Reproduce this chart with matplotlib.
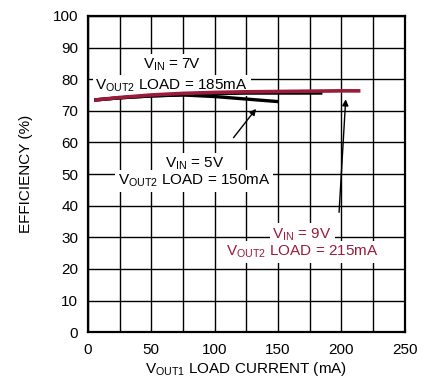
import matplotlib
matplotlib.use("Agg")
import matplotlib.pyplot as plt
from matplotlib import font_manager

names = {f.name for f in font_manager.fontManager.ttflist}
fam = "Liberation Sans Narrow" if "Liberation Sans Narrow" in names else "Liberation Sans"
plt.rcParams['font.family'] = [fam, 'DejaVu Sans']
plt.rcParams['mathtext.fontset'] = 'custom'
plt.rcParams['mathtext.rm'] = fam
plt.rcParams['mathtext.it'] = fam

RED = "#9b1b3a"

x_5v = [5, 25, 50, 75, 100, 125, 150]
y_5v = [73.4, 74.1, 74.7, 75.0, 74.5, 73.7, 72.9]
x_7v = [5, 25, 50, 75, 100, 125, 150, 185]
y_7v = [73.4, 74.1, 74.7, 75.1, 75.4, 75.6, 75.6, 75.6]
x_9v = [5, 25, 50, 75, 100, 125, 150, 175, 200, 215]
y_9v = [73.4, 74.2, 75.0, 75.5, 75.8, 76.0, 76.1, 76.2, 76.3, 76.3]

xticks = [0, 50, 100, 150, 200, 250]
yticks = list(range(0, 101, 10))

fig = plt.figure(figsize=(4.27, 3.88), dpi=100)
ax = fig.add_axes([0.206, 0.144, 0.742, 0.815])
ax.set_xlim(0, 250)
ax.set_ylim(0, 100)
ax.set_xticks(xticks)
ax.set_xticks(range(0, 251, 25), minor=True)
ax.set_yticks(yticks)
ax.grid(True, which='both', color='black', linewidth=1.0)
ax.tick_params(which='both', length=0, labelsize=11)
ax.tick_params(axis='y', pad=7)
ax.tick_params(axis='x', pad=8)
for s in ax.spines.values():
    s.set_linewidth(1.6)
ax.set_axisbelow(True)

ax.plot(x_5v, y_5v, color='black', lw=2.4, zorder=6, solid_capstyle='butt')
ax.plot(x_7v, y_7v, color='black', lw=2.4, zorder=6, solid_capstyle='butt')
ax.plot(x_9v, y_9v, color=RED, lw=2.6, zorder=7, solid_capstyle='butt')

ax.set_xlabel(r"V$_{\mathrm{OUT1}}$ LOAD CURRENT (mA)", fontsize=11, labelpad=2)
ax.set_ylabel("EFFICIENCY (%)", fontsize=11, labelpad=14)

bb = dict(facecolor='white', edgecolor='none', pad=2)
fs = 11
ax.text(66, 83.2, r"V$_{\mathrm{IN}}$ = 7V", ha='center', va='baseline', fontsize=fs, bbox=bb, zorder=5)
ax.text(66, 76.8, r"V$_{\mathrm{OUT2}}$ LOAD = 185mA", ha='center', va='baseline', fontsize=fs, bbox=bb, zorder=5)

ax.text(84, 51.9, r"V$_{\mathrm{IN}}$ = 5V", ha='center', va='baseline', fontsize=fs, bbox=bb, zorder=5)
ax.text(84, 46.5, r"V$_{\mathrm{OUT2}}$ LOAD = 150mA", ha='center', va='baseline', fontsize=fs, bbox=bb, zorder=5)
ax.annotate("", xy=(134, 71.3), xytext=(113.5, 60.8),
            arrowprops=dict(arrowstyle='-|>', color='black', lw=1.0, mutation_scale=9), zorder=5)

ax.text(169, 29.7, r"V$_{\mathrm{IN}}$ = 9V", ha='center', va='baseline', fontsize=fs, color=RED, bbox=bb, zorder=5)
ax.text(169, 24.1, r"V$_{\mathrm{OUT2}}$ LOAD = 215mA", ha='center', va='baseline', fontsize=fs, color=RED, bbox=bb, zorder=5)
ax.annotate("", xy=(203.5, 74.5), xytext=(198, 37),
            arrowprops=dict(arrowstyle='-|>', color='black', lw=1.0, mutation_scale=9), zorder=5)

fig.savefig("out.png", dpi=100)
